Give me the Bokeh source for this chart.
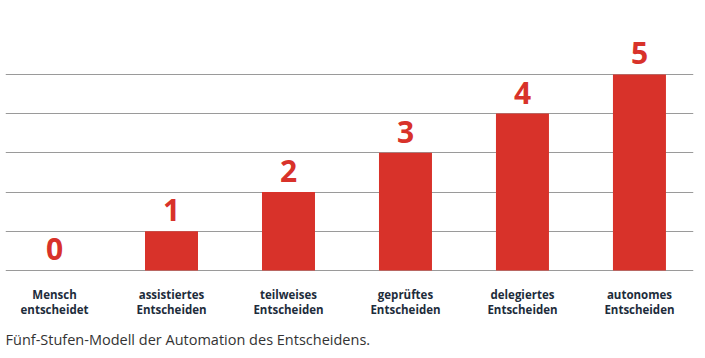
from bokeh.plotting import figure
from bokeh.models import ColumnDataSource, FixedTicker, Range1d, Title
from bokeh.core.properties import value
from bokeh.embed import file_html
from bokeh.resources import INLINE

stufen = [0, 1, 2, 3, 4, 5]
werte = [0, 1, 2, 3, 4, 5]
zahl_labels = ["0", "1", "2", "3", "4", "5"]
kategorien = [
    "Mensch\nentscheidet",
    "assistiertes\nEntscheiden",
    "teilweises\nEntscheiden",
    "geprüftes\nEntscheiden",
    "delegiertes\nEntscheiden",
    "autonomes\nEntscheiden",
]
caption = "Fünf-Stufen-Modell der Automation des Entscheidens."

RED = "#d8322a"
NAVY = "#1d2c3b"

src = ColumnDataSource(dict(x=stufen, top=werte, lab=zahl_labels))

p = figure(
    frame_width=688, frame_height=264,
    x_range=Range1d(-0.419, 5.462), y_range=Range1d(-0.051, 6.68),
    output_backend="svg", toolbar_location=None,
    min_border_left=5, min_border_top=8, min_border_right=12, min_border_bottom=0,
)
p.outline_line_color = None
p.yaxis.visible = False
p.xgrid.grid_line_color = None
p.ygrid.ticker = FixedTicker(ticks=[0, 1, 2, 3, 4, 5])
p.ygrid.grid_line_color = "#9a9a9a"
p.ygrid.grid_line_width = 1

p.vbar(x="x", top="top", bottom=0, width=0.453, source=src, fill_color=RED, line_color=None)
p.text(x="x", y="top", text="lab", source=src, text_align="center", text_baseline="alphabetic",
       y_offset=-21, text_font=value("Open Sans"), text_font_style="bold",
       text_font_size="30px", text_color=RED)

xa = p.xaxis[0]
xa.ticker = FixedTicker(ticks=stufen)
xa.major_label_overrides = {i: k for i, k in zip(stufen, kategorien)}
xa.axis_line_color = None
xa.major_tick_line_color = None
xa.minor_tick_line_color = None
xa.major_label_standoff = 8
xa.major_label_text_font = "Open Sans"
xa.major_label_text_font_style = "bold"
xa.major_label_text_font_size = "11.5px"
xa.major_label_text_color = NAVY
xa.major_label_text_line_height = 1.05

t = Title(text=caption, align="left", text_font="Open Sans", text_font_style="normal",
          text_font_size="14.5px", text_color="#333333", standoff=14)
p.add_layout(t, "below")

open("out.html", "w").write(file_html(p, INLINE))
